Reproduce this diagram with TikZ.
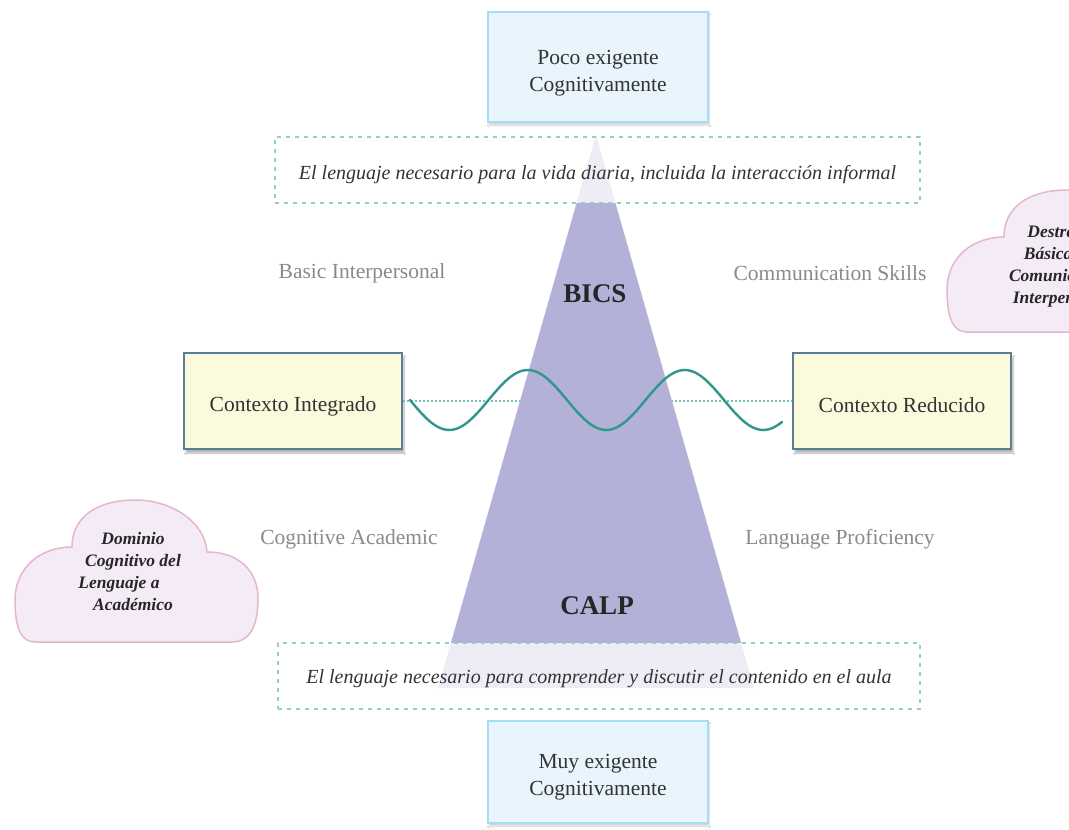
\documentclass[tikz,border=0pt]{standalone}
\usepackage{fontspec}
\setmainfont{Liberation Serif}
\usetikzlibrary{shadows.blur}

\definecolor{skyline}{HTML}{A6DCF8}
\definecolor{skyfill}{HTML}{E8F5FD}
\definecolor{ctxline}{HTML}{5A7E95}
\definecolor{ctxfill}{HTML}{FAFADC}
\definecolor{tealdash}{HTML}{8FD0C8}
\definecolor{tealdot}{HTML}{72C0B7}
\definecolor{wavecol}{HTML}{2F978C}
\definecolor{pyramid}{HTML}{B3B1D8}
\definecolor{cloudfill}{HTML}{F4EBF7}
\definecolor{cloudline}{HTML}{E6B6CF}
\definecolor{labelgray}{HTML}{8A8A8A}
\definecolor{inktext}{HTML}{333333}

\tikzset{
  demandbox/.style={draw=skyline, line width=1.6pt, fill=skyfill,
    minimum width=220pt,
    blur shadow={shadow xshift=1pt, shadow yshift=-3pt, shadow opacity=18, shadow blur steps=6}},
  ctxbox/.style={draw=ctxline, line width=2.8pt, fill=ctxfill,
    minimum width=218pt, minimum height=96pt,
    blur shadow={shadow xshift=2pt, shadow yshift=-4pt, shadow opacity=30, shadow blur steps=6}},
  boxtext/.style={align=center, text=inktext, inner sep=0pt,
    font=\fontsize{21.5}{27}\selectfont},
  notebox/.style={draw=tealdash, line width=1.6pt, dash pattern=on 4pt off 5pt,
    fill=white, fill opacity=0.78},
  notetext/.style={text=inktext, inner sep=0pt,
    font=\fontsize{20}{24}\selectfont\itshape},
  sidelabel/.style={text=labelgray, font=\fontsize{21.5}{26}\selectfont},
  tierlabel/.style={text=black!85, font=\fontsize{27}{30}\selectfont\bfseries},
  cloudtext/.style={text=black!85, align=center,
    font=\fontsize{17.5}{22}\selectfont\bfseries\itshape},
  cloudshape/.style={fill=cloudfill, draw=cloudline, line width=1.5pt},
}

% outline of a cloud, in pixel-like units (y grows downwards)
\newcommand{\cloudoutline}{%
  (72,547) .. controls (72,515) and (100,500) .. (135,500)
  .. controls (172,500) and (205,522) .. (207,552)
  .. controls (240,552) and (258,572) .. (258,598)
  .. controls (258,626) and (250,642) .. (232,642)
  -- (35,642)
  .. controls (22,642) and (15,630) .. (15,600)
  .. controls (15,568) and (40,547) .. (72,547) -- cycle}

\begin{document}
\begin{tikzpicture}[x=1pt, y=-1pt]
\useasboundingbox (0,0) rectangle (1069,830);
\fill[white] (0,0) rectangle (1069,830);

% context boxes and the axis joining them
\node[ctxbox] (ctxL) at (293,401) {};
\node[boxtext] (ctxLtext) at ([yshift=-5pt]ctxL.center) {Contexto Integrado};
\node[ctxbox] (ctxR) at (902,401) {};
\node[boxtext] (ctxRtext) at ([yshift=-4pt]ctxR.center) {Contexto Reducido};
\draw[tealdot, line width=1.6pt, dash pattern=on 2pt off 2pt] (ctxL.east) -- (ctxR.west);

% the pyramid
\fill[pyramid] (596,135) -- (754,688) -- (438,688) -- cycle;

% descriptions
\node[notebox, minimum width=645pt, minimum height=66pt] (everyday) at (597.5,170) {};
\node[notetext] (everydaytext) at ([yshift=-5pt]everyday.center)
  {El lenguaje necesario para la vida diaria, incluida la interacción informal};
\node[notebox, minimum width=642pt, minimum height=66pt] (academic) at (599,676) {};
\node[notetext] (academictext) at ([yshift=-3pt]academic.center)
  {El lenguaje necesario para comprender y discutir el contenido en el aula};

% wave across the pyramid
\draw[wavecol, line width=2.4pt, line cap=round, smooth, samples=120, domain=0:372]
  plot ({410+\x}, {400+30*sin(2.293*\x)});

% tiers
\node[tierlabel] (bics) at (595,294) {BICS};
\node[tierlabel] (calp) at (597,606) {CALP};

% cognitive demand
\node[demandbox, minimum height=110pt] (low) at (598,67) {};
\node[boxtext] (lowtext) at ([yshift=-6pt]low.center) {Poco exigente\\Cognitivamente};
\node[demandbox, minimum height=102pt] (high) at (598,772) {};
\node[boxtext] (hightext) at ([yshift=-5pt]high.center) {Muy exigente\\Cognitivamente};

% side labels
\node[sidelabel] (bil) at (362,273) {Basic Interpersonal};
\node[sidelabel] (bir) at (830,273) {Communication Skills};
\node[sidelabel] (cal) at (349,539) {Cognitive Academic};
\node[sidelabel] (car) at (840,539) {Language Proficiency};

% clouds
\path[cloudshape] \cloudoutline;
\node[cloudtext] (calpcloud) at (133,572)
  {Dominio\\Cognitivo del\\\hbox{Lenguaje a\kern1.6em}\\Académico};
\begin{scope}[shift={(932,-310)}]
  \path[cloudshape] \cloudoutline;
\end{scope}
\node[cloudtext] (bicscloud) at (1062,267)
  {Destrezas\\Básicas de\\Comunicación\\Interpersonal};
\end{tikzpicture}
\end{document}
